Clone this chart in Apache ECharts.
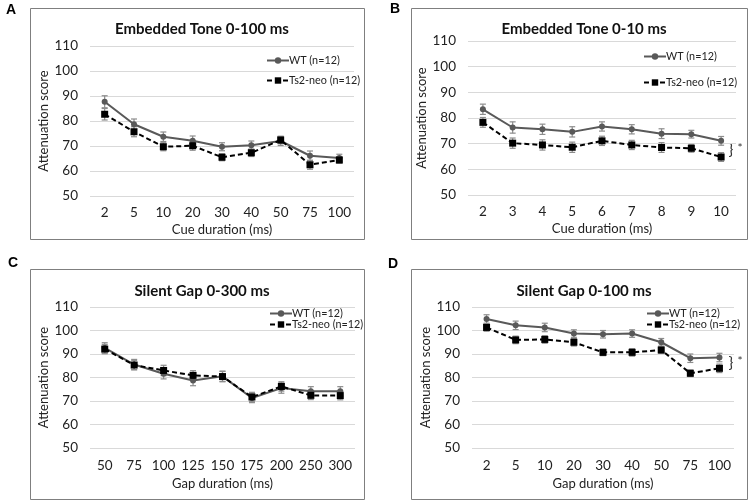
<!DOCTYPE html>
<html>
<head>
<meta charset="utf-8">
<script src="https://cdn.jsdelivr.net/npm/echarts@6/dist/echarts.min.js"></script>
<style>html,body{margin:0;padding:0;background:#fff}#c{width:750px;height:504px}</style>
</head>
<body>
<div id="c"></div>
<script>
// ---- data ----
const catsA = ['2','5','10','20','30','40','50','75','100'];
const wtA   = [87.7,78.7,73.7,72.1,69.7,70.3,72.0,66.1,65.2];
const tsA   = [82.7,75.7,69.7,70.1,65.5,67.3,72.4,62.5,64.4];
const wtErrA = [2.4,2.1,1.9,1.9,1.6,1.7,1.8,1.9,1.5];
const tsErrA = [2.3,2.0,1.6,1.8,1.4,1.5,1.5,1.8,1.3];

const catsB = ['2','3','4','5','6','7','8','9','10'];
const wtB   = [83.4,76.3,75.6,74.6,76.7,75.6,73.9,73.7,71.1];
const tsB   = [78.3,70.2,69.5,68.6,71.1,69.5,68.5,68.2,64.8];
const wtErrB = [2.0,2.2,2.0,2.0,1.8,1.8,1.9,1.5,1.7];
const tsErrB = [1.9,2.0,2.0,2.0,1.8,1.8,1.9,1.5,1.7];

const catsC = ['50','75','100','125','150','175','200','250','300'];
const wtC   = [92.6,85.5,81.6,78.7,80.5,71.3,75.5,74.1,74.1];
const tsC   = [92.1,85.3,83.0,80.9,80.4,71.7,76.2,72.4,72.3];
const wtErrC = [2.2,2.2,2.2,2.2,2.2,2.0,2.2,2.0,2.0];
const tsErrC = [2.0,2.0,2.2,2.0,2.2,2.0,2.0,1.8,1.8];

const catsD = ['2','5','10','20','30','40','50','75','100'];
const wtD   = [104.9,102.2,101.3,98.7,98.4,98.7,95.0,88.2,88.5];
const tsD   = [101.3,96.0,96.2,95.0,90.7,90.7,91.7,81.8,83.9];
const wtErrD = [1.8,1.8,1.8,1.6,1.6,1.6,1.6,1.8,1.8];
const tsErrD = [1.6,1.6,1.6,1.6,1.4,1.6,1.4,1.4,1.8];

const yMin = 50, yMax = 110, yStep = 10;
const titles = ['Embedded Tone 0-100 ms','Embedded Tone 0-10 ms','Silent Gap 0-300 ms','Silent Gap 0-100 ms'];
const xNames = ['Cue duration (ms)','Cue duration (ms)','Gap duration (ms)','Gap duration (ms)'];
const yName = 'Attenuation score';
const wtName = 'WT (n=12)', tsName = 'Ts2-neo (n=12)';
const panelLetters = ['A','B','C','D'];

// ---- layout ----
const FONT = 'Lato, "Open Sans", sans-serif';
const grids = [
  {left:90, top:46, width:264, height:150},
  {left:468, top:41, width:268, height:154},
  {left:90, top:307, width:265, height:141},
  {left:472, top:307, width:262, height:141}
];
const boxes = [
  {x:30, y:8, w:334, h:231},
  {x:411, y:8, w:336, h:231},
  {x:30, y:269, w:334, h:230},
  {x:411, y:269, w:336, h:230}
];
const titlePos = [[197,24],[579,24],[197,286],[579,286]];
const legendPos = [
  {left:266, top:55, gap:9},
  {left:643, top:51, gap:15},
  {left:269, top:308, gap:0},
  {left:646, top:308, gap:0}
];
const xLabelGap = [[10,27],[10,27],[11,29],[11,29]];
const yNameGap = [31,30,32,32];
const letterPos = [[11,10],[395,9],[13,263],[393,264]];

const cats = [catsA,catsB,catsC,catsD];
const wt = [wtA,wtB,wtC,wtD];
const ts = [tsA,tsB,tsC,tsD];
const wtErr = [wtErrA,wtErrB,wtErrC,wtErrD];
const tsErr = [tsErrA,tsErrB,tsErrC,tsErrD];

function errSeries(i, vals, errs){
  return {
    type:'custom', xAxisIndex:i, yAxisIndex:i, z:1, silent:true,
    name: 'err'+i,
    data: vals.map((v,k)=>[k, v, errs[k]]),
    renderItem: function(params, api){
      const x = api.value(0), v = api.value(1), e = api.value(2);
      const hi = api.coord([x, v+e]), lo = api.coord([x, v-e]);
      const st = {stroke:'#8c8c8c', lineWidth:1.2};
      return {type:'group', children:[
        {type:'line', shape:{x1:hi[0],y1:hi[1],x2:lo[0],y2:lo[1]}, style:st},
        {type:'line', shape:{x1:hi[0]-3,y1:hi[1],x2:hi[0]+3,y2:hi[1]}, style:st},
        {type:'line', shape:{x1:lo[0]-3,y1:lo[1],x2:lo[0]+3,y2:lo[1]}, style:st}
      ]};
    }
  };
}

const option = {
  animation:false,
  backgroundColor:'#fff',
  grid: grids.map(g=>Object.assign({containLabel:false}, g)),
  xAxis: cats.map((c,i)=>({
    type:'category', gridIndex:i, data:c, boundaryGap:true,
    axisLine:{show:false}, axisTick:{show:false},
    axisLabel:{color:'#222', fontSize:13.5, fontFamily:FONT, margin:xLabelGap[i][0], interval:0},
    name:xNames[i], nameLocation:'middle', nameGap:xLabelGap[i][1],
    nameTextStyle:{color:'#222', fontSize:13, fontFamily:FONT}
  })),
  yAxis: cats.map((c,i)=>({
    type:'value', gridIndex:i, min:yMin, max:yMax, interval:yStep,
    axisLine:{show:false}, axisTick:{show:false},
    splitLine:{lineStyle:{color:'#d9d9d9', width:1}},
    axisLabel:{color:'#222', fontSize:13.5, fontFamily:FONT, margin:12},
    name:yName, nameLocation:'middle', nameGap:yNameGap[i], nameRotate:90,
    nameTextStyle:{color:'#222', fontSize:13, fontFamily:FONT}
  })),
  title: titles.map((t,i)=>({
    text:t, left:titlePos[i][0], top:titlePos[i][1], textAlign:'center', textVerticalAlign:'middle',
    textStyle:{fontSize:15, fontWeight:'bold', color:'#111', fontFamily:FONT}
  })),
  legend: legendPos.map((p,i)=>({
    orient:'vertical', left:p.left, top:p.top, itemGap:p.gap,
    itemWidth:22, itemHeight:8, padding:0,
    data:[wtName, tsName],
    textStyle:{fontSize:10.8, color:'#222', fontFamily:FONT, padding:[0,0,0,-5]},
    selectedMode:false
  })),
  series: [],
  graphic: []
};

for (let i=0;i<4;i++){
  option.series.push(errSeries(i, wt[i], wtErr[i]));
  option.series.push(errSeries(i, ts[i], tsErr[i]));
  option.series.push({
    type:'line', name:wtName, xAxisIndex:i, yAxisIndex:i, data:wt[i], z:3,
    symbol:'circle', symbolSize:6,
    lineStyle:{color:'#595959', width:2},
    itemStyle:{color:'#595959'}
  });
  option.series.push({
    type:'line', name:tsName, xAxisIndex:i, yAxisIndex:i, data:ts[i], z:3,
    symbol:'rect', symbolSize:7,
    lineStyle:{color:'#000', width:2, type:[5,3]},
    itemStyle:{color:'#000'}
  });
}

boxes.forEach(b=>{
  option.graphic.push({type:'rect', shape:{x:b.x+0.5,y:b.y+0.5,width:b.w,height:b.h},
    style:{fill:null, stroke:'#7f7f7f', lineWidth:1}, silent:true, z:-1});
});
panelLetters.forEach((l,i)=>{
  option.graphic.push({type:'text', x:letterPos[i][0], y:letterPos[i][1],
    style:{text:l, font:'bold 14px "Liberation Sans", Arial, sans-serif', fill:'#000', textAlign:'center', textVerticalAlign:'middle'}});
});
// significance brackets (B and D)
[[731,150],[731,363]].forEach(p=>{
  option.graphic.push({type:'text', x:p[0], y:p[1],
    style:{text:'}', font:'16px '+FONT, fill:'#333', textAlign:'center', textVerticalAlign:'middle'}});
  option.graphic.push({type:'text', x:p[0]+9, y:p[1]-2,
    style:{text:'*', font:'12px '+FONT, fill:'#333', textAlign:'center', textVerticalAlign:'middle'}});
});

const chart = echarts.init(document.getElementById('c'), null, {renderer:'canvas'});
chart.setOption(option);
</script>
</body>
</html>
